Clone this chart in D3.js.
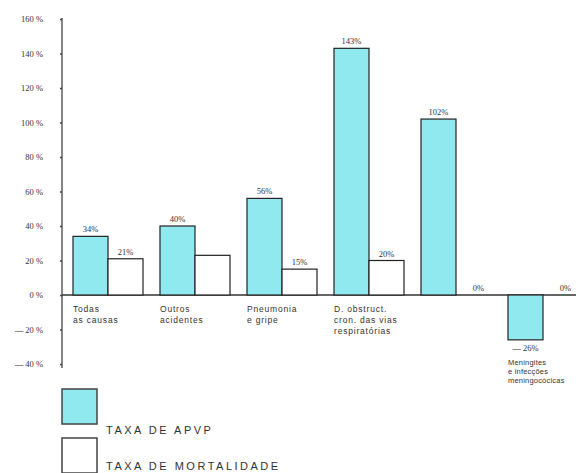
<!DOCTYPE html>
<html>
<head>
<meta charset="utf-8">
<script src="https://d3js.org/d3.v7.min.js"></script>
<style>
    body {
        margin: 0;
        background-color: #ffffff;
    }
    svg text {
        fill: #333;
        font-family: "Liberation Serif", serif;
    }
    .axis path, .axis line {
        stroke: #444;
        stroke-width: 1.3px;
    }
    .axis text {
        fill: #333;
    }
    .legend text {
        font-family: "Liberation Sans", sans-serif;
        font-size: 11px;
        letter-spacing: 2.5px;
    }
</style>
</head>
<body>
<svg width="576" height="473"></svg>
<script>
    // data
    var categories = ["Todas|as causas", "Outros|acidentes", "Pneumonia|e gripe",
        "D. obstruct.|cron. das vias|respiratórias", "", "Meningites|e infecções|meningocócicas"];
    var apvp = [34, 40, 56, 143, 102, -26];
    var mortalidade = [21, 23, 15, 20, 0, 0];
    var apvpLabels = ["34%", "40%", "56%", "143%", "102%", "— 26%"];
    var mortLabels = ["21%", null, "15%", "20%", "0%", "0%"];
    var yTicks = [160, 140, 120, 100, 80, 60, 40, 20, 0, -20, -40];
    var series = ["TAXA DE APVP", "TAXA DE MORTALIDADE"];

    var cyan = "#8fe9ef";
    var svg = d3.select("svg");

    var y = d3.scaleLinear().domain([-40, 160]).range([364, 19]);
    var x0 = d3.scaleBand().domain(d3.range(categories.length))
        .range([73, 578]).paddingInner(17 / 87).paddingOuter(0);
    var x1 = d3.scaleBand().domain([0, 1]).range([0, x0.bandwidth()]);

    // axis
    svg.append("g")
        .attr("class", "axis")
        .attr("transform", "translate(62,0)")
        .call(d3.axisLeft(y).tickValues(yTicks).tickSize(2).tickSizeOuter(0).tickPadding(17)
            .tickFormat(function (d) { return d < 0 ? "— " + (-d) + " %" : d + " %"; }))
        .call(function (g) {
            g.select(".domain").attr("d", "M0,18V368");
            g.selectAll("text").style("font-size", "8.5px");
        });

    // baseline
    svg.append("line")
        .attr("x1", 62).attr("x2", 576)
        .attr("y1", y(0)).attr("y2", y(0))
        .attr("stroke", "#333").attr("stroke-width", 1.3);

    var groups = svg.selectAll(".grp")
        .data(categories)
        .enter().append("g")
        .attr("class", "grp")
        .attr("transform", function (d, i) { return "translate(" + x0(i) + ",0)"; });

    function drawBars(vals, k, fill) {
        groups.filter(function (d, i) { return vals[i] !== 0; })
            .append("rect")
            .attr("x", x1(k))
            .attr("width", x1.bandwidth())
            .attr("y", function (d) { var v = vals[categories.indexOf(d)]; return y(Math.max(0, v)); })
            .attr("height", function (d) { var v = vals[categories.indexOf(d)]; return Math.abs(y(v) - y(0)); })
            .attr("fill", fill)
            .attr("stroke", "#222")
            .attr("stroke-width", 1.2);
    }
    drawBars(apvp, 0, cyan);
    drawBars(mortalidade, 1, "#fff");

    // value labels
    groups.append("text")
        .attr("x", x1(0) + x1.bandwidth() / 2)
        .attr("y", function (d, i) { return apvp[i] < 0 ? y(apvp[i]) + 11 : y(apvp[i]) - 4; })
        .attr("text-anchor", "middle")
        .style("font-size", "8.5px")
        .text(function (d, i) { return apvpLabels[i]; });

    groups.append("text")
        .attr("x", function (d, i) { return x1(1) + x1.bandwidth() / 2 + (mortalidade[i] === 0 ? 5 : 0); })
        .attr("y", function (d, i) { return y(mortalidade[i]) - 4; })
        .attr("text-anchor", "middle")
        .style("font-size", "8.5px")
        .text(function (d, i) { return mortLabels[i]; });

    // category labels (the one under the negative bar is set smaller)
    groups.append("text")
        .attr("y", function (d, i) { return apvp[i] < 0 ? 365 : 312; })
        .style("font-family", "Liberation Sans, sans-serif")
        .style("font-size", function (d, i) { return apvp[i] < 0 ? "7.5px" : "8.5px"; })
        .style("letter-spacing", function (d, i) { return apvp[i] < 0 ? "0.2px" : "0.8px"; })
        .each(function (d, i) {
            var t = d3.select(this);
            d.split("|").forEach(function (line, j) {
                if (!line) return;
                t.append("tspan").attr("x", 0)
                    .attr("dy", j === 0 ? 0 : (apvp[i] < 0 ? 9 : 11)).text(line);
            });
        });

    // legend
    var legend = svg.append("g").attr("class", "legend");
    legend.selectAll("rect")
        .data(series)
        .enter().append("rect")
        .attr("x", 62).attr("width", 35)
        .attr("y", function (d, i) { return 389 + i * 49; })
        .attr("height", 35)
        .attr("fill", function (d, i) { return i === 0 ? cyan : "#fff"; })
        .attr("stroke", "#444").attr("stroke-width", 1.5);
    legend.selectAll("text")
        .data(series)
        .enter().append("text")
        .attr("x", 106)
        .attr("y", function (d, i) { return 434 + i * 36; })
        .text(function (d) { return d; });
</script>
</body>
</html>
